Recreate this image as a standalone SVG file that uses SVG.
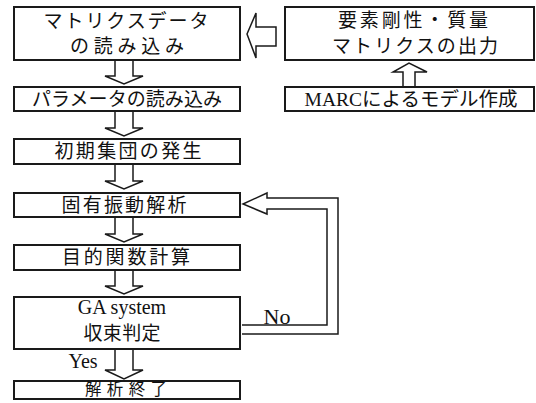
<svg xmlns="http://www.w3.org/2000/svg" width="536" height="403" viewBox="0 0 536 403">
<style>
.box{fill:#fff;stroke:#1a1a1a;stroke-width:2}
.arr{fill:#fff;stroke:#1a1a1a;stroke-width:1.5;stroke-linejoin:miter}
text{font-family:"Liberation Serif","Noto Sans CJK JP",serif;font-size:19px;fill:#111;text-anchor:middle}
.lat{font-size:20px}
</style>
<rect width="536" height="403" fill="#fff"/>
<g id="connectors">
<path class="arr" d="M115,60 V76 H105 L124,84 L143,76 H133 V60"/>
<path class="arr" d="M115,111 V128 H105 L124,136 L143,128 H133 V111"/>
<path class="arr" d="M115,164 V181 H105 L124,189 L143,181 H133 V164"/>
<path class="arr" d="M115,217 V234 H105 L124,242 L143,234 H133 V217"/>
<path class="arr" d="M115,270 V286 H105 L124,294 L143,286 H133 V270"/>
<path class="arr" d="M115,349 V370 H105 L124,379 L143,370 H133 V349"/>
<path class="arr" d="M247,34 L256,13 V27 H276 V46 H256 V58 Z"/>
<path class="arr" d="M403,87 V72 H393 L409,63 L427,72 H415 V87"/>
<path class="arr" d="M242,325 H327 V209 H267 V214 L243,204 L267,193 V198 H338 V334 H242"/>
</g>
<g id="n1"><rect class="box" x="14" y="7" width="226" height="53"/>
<text x="126" y="28" textLength="165" lengthAdjust="spacing">マトリクスデータ</text>
<text x="127" y="53" textLength="114" lengthAdjust="spacing">の読み込み</text></g>
<g id="n2"><rect class="box" x="14" y="87" width="226" height="24"/>
<text x="127" y="106" textLength="190" lengthAdjust="spacing">パラメータの読み込み</text></g>
<g id="n3"><rect class="box" x="14" y="139" width="226" height="25"/>
<text x="128" y="158" textLength="147" lengthAdjust="spacing">初期集団の発生</text></g>
<g id="n4"><rect class="box" x="14" y="193" width="226" height="24"/>
<text x="124" y="212" textLength="125" lengthAdjust="spacing">固有振動解析</text></g>
<g id="n5"><rect class="box" x="14" y="245" width="226" height="25"/>
<text x="126" y="264" textLength="128" lengthAdjust="spacing">目的関数計算</text></g>
<g id="n6"><rect class="box" x="14" y="297" width="226" height="52"/>
<text class="lat" x="122" y="314">GA system</text>
<text x="122" y="340" textLength="77" lengthAdjust="spacing">収束判定</text></g>
<g id="n7"><rect class="box" x="14" y="381" width="226" height="18"/>
<text x="126" y="395" style="font-size:16.5px" textLength="82" lengthAdjust="spacing">解析終了</text></g>
<g id="n8"><rect class="box" x="285" y="7" width="249" height="53"/>
<text x="413" y="27" textLength="150" lengthAdjust="spacing">要素剛性・質量</text>
<text x="415" y="53" textLength="166" lengthAdjust="spacing">マトリクスの出力</text></g>
<g id="n9"><rect class="box" x="285" y="87" width="249" height="24"/>
<text x="411" y="106" style="font-size:19.5px">MARCによるモデル作成</text></g>
<text class="lat" x="83" y="368">Yes</text>
<text class="lat" x="277" y="324" style="font-size:22px">No</text>
</svg>
